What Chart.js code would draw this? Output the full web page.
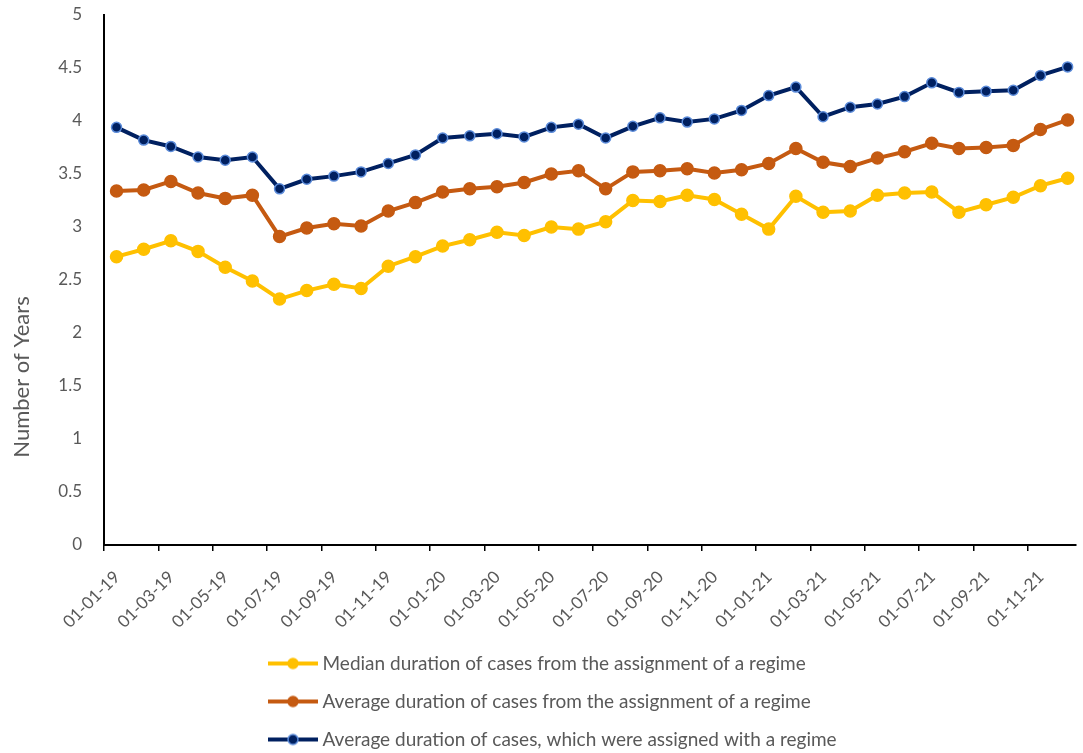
<!DOCTYPE html>
<html lang="en">
<head>
    <meta charset="UTF-8">
    <title>Duration of cases</title>
    <style>
        html, body {
            margin: 0;
            padding: 0;
            background: #fff;
        }
    </style>
    <script src="https://cdn.jsdelivr.net/npm/chart.js"></script>
</head>
<body>
    <canvas id="durationChart" width="1083" height="753"></canvas>
    <script>
        // tick labels, one every two months
        const tickLabels = [
            '01-01-19', '01-03-19', '01-05-19', '01-07-19', '01-09-19', '01-11-19',
            '01-01-20', '01-03-20', '01-05-20', '01-07-20', '01-09-20', '01-11-20',
            '01-01-21', '01-03-21', '01-05-21', '01-07-21', '01-09-21', '01-11-21'
        ];

        // monthly values, January 2019 to December 2021
        const medianFromAssignment = [
            2.72, 2.79, 2.87, 2.77, 2.62, 2.49, 2.32, 2.40, 2.46, 2.42, 2.63, 2.72,
            2.82, 2.88, 2.95, 2.92, 3.00, 2.98, 3.05, 3.25, 3.24, 3.30, 3.26, 3.12,
            2.98, 3.29, 3.14, 3.15, 3.30, 3.32, 3.33, 3.14, 3.21, 3.28, 3.39, 3.46
        ];
        const averageFromAssignment = [
            3.34, 3.35, 3.43, 3.32, 3.27, 3.30, 2.91, 2.99, 3.03, 3.01, 3.15, 3.23,
            3.33, 3.36, 3.38, 3.42, 3.50, 3.53, 3.36, 3.52, 3.53, 3.55, 3.51, 3.54,
            3.60, 3.74, 3.61, 3.57, 3.65, 3.71, 3.79, 3.74, 3.75, 3.77, 3.92, 4.01
        ];
        const averageAssigned = [
            3.94, 3.82, 3.76, 3.66, 3.63, 3.66, 3.36, 3.45, 3.48, 3.52, 3.60, 3.68,
            3.84, 3.86, 3.88, 3.85, 3.94, 3.97, 3.84, 3.95, 4.03, 3.99, 4.02, 4.10,
            4.24, 4.32, 4.04, 4.13, 4.16, 4.23, 4.36, 4.27, 4.28, 4.29, 4.43, 4.51
        ];

        const seriesNames = [
            'Median duration of cases from the assignment of a regime',
            'Average duration of cases from the assignment of a regime',
            'Average duration of cases, which were assigned with a regime'
        ];
        const yTitle = 'Number of Years';

        // values are recorded mid-month (the 15th)
        const midMonth = 14 / 30.4;
        function toPoints(values) {
            return values.map((v, i) => ({ x: i + midMonth, y: v }));
        }

        // little line-with-marker image for the legend
        function legendSymbol(lineColor, fill, stroke) {
            const c = document.createElement('canvas');
            c.width = 50;
            c.height = 14;
            const g = c.getContext('2d');
            g.strokeStyle = lineColor;
            g.lineWidth = 4;
            g.beginPath();
            g.moveTo(0, 7);
            g.lineTo(50, 7);
            g.stroke();
            g.beginPath();
            g.arc(25, 7, 5, 0, Math.PI * 2);
            g.fillStyle = fill;
            g.fill();
            g.lineWidth = 1.5;
            g.strokeStyle = stroke;
            g.stroke();
            return c;
        }

        const colors = [
            { line: '#FFC000', fill: '#FFC000', edge: '#FFC000' },
            { line: '#C55A11', fill: '#C55A11', edge: '#C55A11' },
            { line: '#002060', fill: '#002060', edge: '#5B8BD9' }
        ];
        const symbols = colors.map(c => legendSymbol(c.line, c.fill, c.edge));

        function makeDataset(i, values, radius) {
            return {
                label: seriesNames[i],
                data: toPoints(values),
                borderColor: colors[i].line,
                backgroundColor: colors[i].fill,
                borderWidth: 4,
                pointRadius: radius,
                pointBackgroundColor: colors[i].fill,
                pointBorderColor: colors[i].edge,
                pointBorderWidth: 1.5,
                tension: 0
            };
        }

        // y axis title sits lower than the middle of the axis
        const yTitlePlugin = {
            id: 'yTitlePlugin',
            afterDraw(chart) {
                const ctx = chart.ctx;
                ctx.save();
                ctx.translate(22, 377);
                ctx.rotate(-Math.PI / 2);
                ctx.font = '22px Lato';
                ctx.fillStyle = '#595959';
                ctx.textAlign = 'center';
                ctx.textBaseline = 'middle';
                ctx.fillText(yTitle, 0, 0);
                ctx.restore();
            }
        };

        // legend rows start under the middle of the plot
        const legendPlacement = {
            id: 'legendPlacement',
            afterLayout(chart) {
                const lg = chart.legend;
                lg.left = 254;
                lg.top = 635;
                lg.bottom = lg.top + lg.height;
            }
        };

        Chart.defaults.font.family = 'Lato';
        Chart.defaults.color = '#595959';

        const ctx = document.getElementById('durationChart').getContext('2d');
        const durationChart = new Chart(ctx, {
            type: 'line',
            data: {
                datasets: [
                    makeDataset(0, medianFromAssignment, 6),
                    makeDataset(1, averageFromAssignment, 6),
                    makeDataset(2, averageAssigned, 5)
                ]
            },
            options: {
                responsive: false,
                animation: false,
                layout: {
                    padding: { top: 15, right: 0, bottom: 0, left: 0 }
                },
                scales: {
                    x: {
                        type: 'linear',
                        min: 0,
                        max: 35.75,
                        afterFit: s => { s.height = 84; },
                        afterBuildTicks: s => {
                            s.ticks = tickLabels.map((_, i) => ({ value: i * 2 }));
                        },
                        border: { display: true, color: '#000', width: 2 },
                        grid: {
                            display: true,
                            drawOnChartArea: false,
                            drawTicks: true,
                            tickLength: 6,
                            color: '#000',
                            lineWidth: 1.5
                        },
                        ticks: {
                            autoSkip: false,
                            minRotation: 45,
                            maxRotation: 45,
                            padding: 16,
                            labelOffset: 13,
                            font: { size: 17 },
                            callback: v => tickLabels[Math.round(v / 2)]
                        }
                    },
                    y: {
                        min: 0,
                        max: 5,
                        afterFit: s => {
                            s.width = 104;
                            s.paddingTop = 0;
                            s.paddingBottom = 0;
                        },
                        border: { display: true, color: '#000', width: 2 },
                        grid: { display: false },
                        ticks: {
                            stepSize: 0.5,
                            padding: 14,
                            font: { size: 17 },
                            callback: v => v
                        }
                    }
                },
                plugins: {
                    tooltip: { enabled: false },
                    legend: {
                        position: 'bottom',
                        align: 'start',
                        labels: {
                            usePointStyle: true,
                            pointStyleWidth: 40,
                            padding: 19,
                            font: { size: 19 },
                            color: '#595959',
                            generateLabels: chart => {
                                const items = Chart.defaults.plugins.legend.labels.generateLabels(chart);
                                items.forEach((item, i) => { item.pointStyle = symbols[i]; });
                                return items;
                            }
                        }
                    }
                }
            },
            plugins: [yTitlePlugin, legendPlacement]
        });
    </script>
</body>
</html>
